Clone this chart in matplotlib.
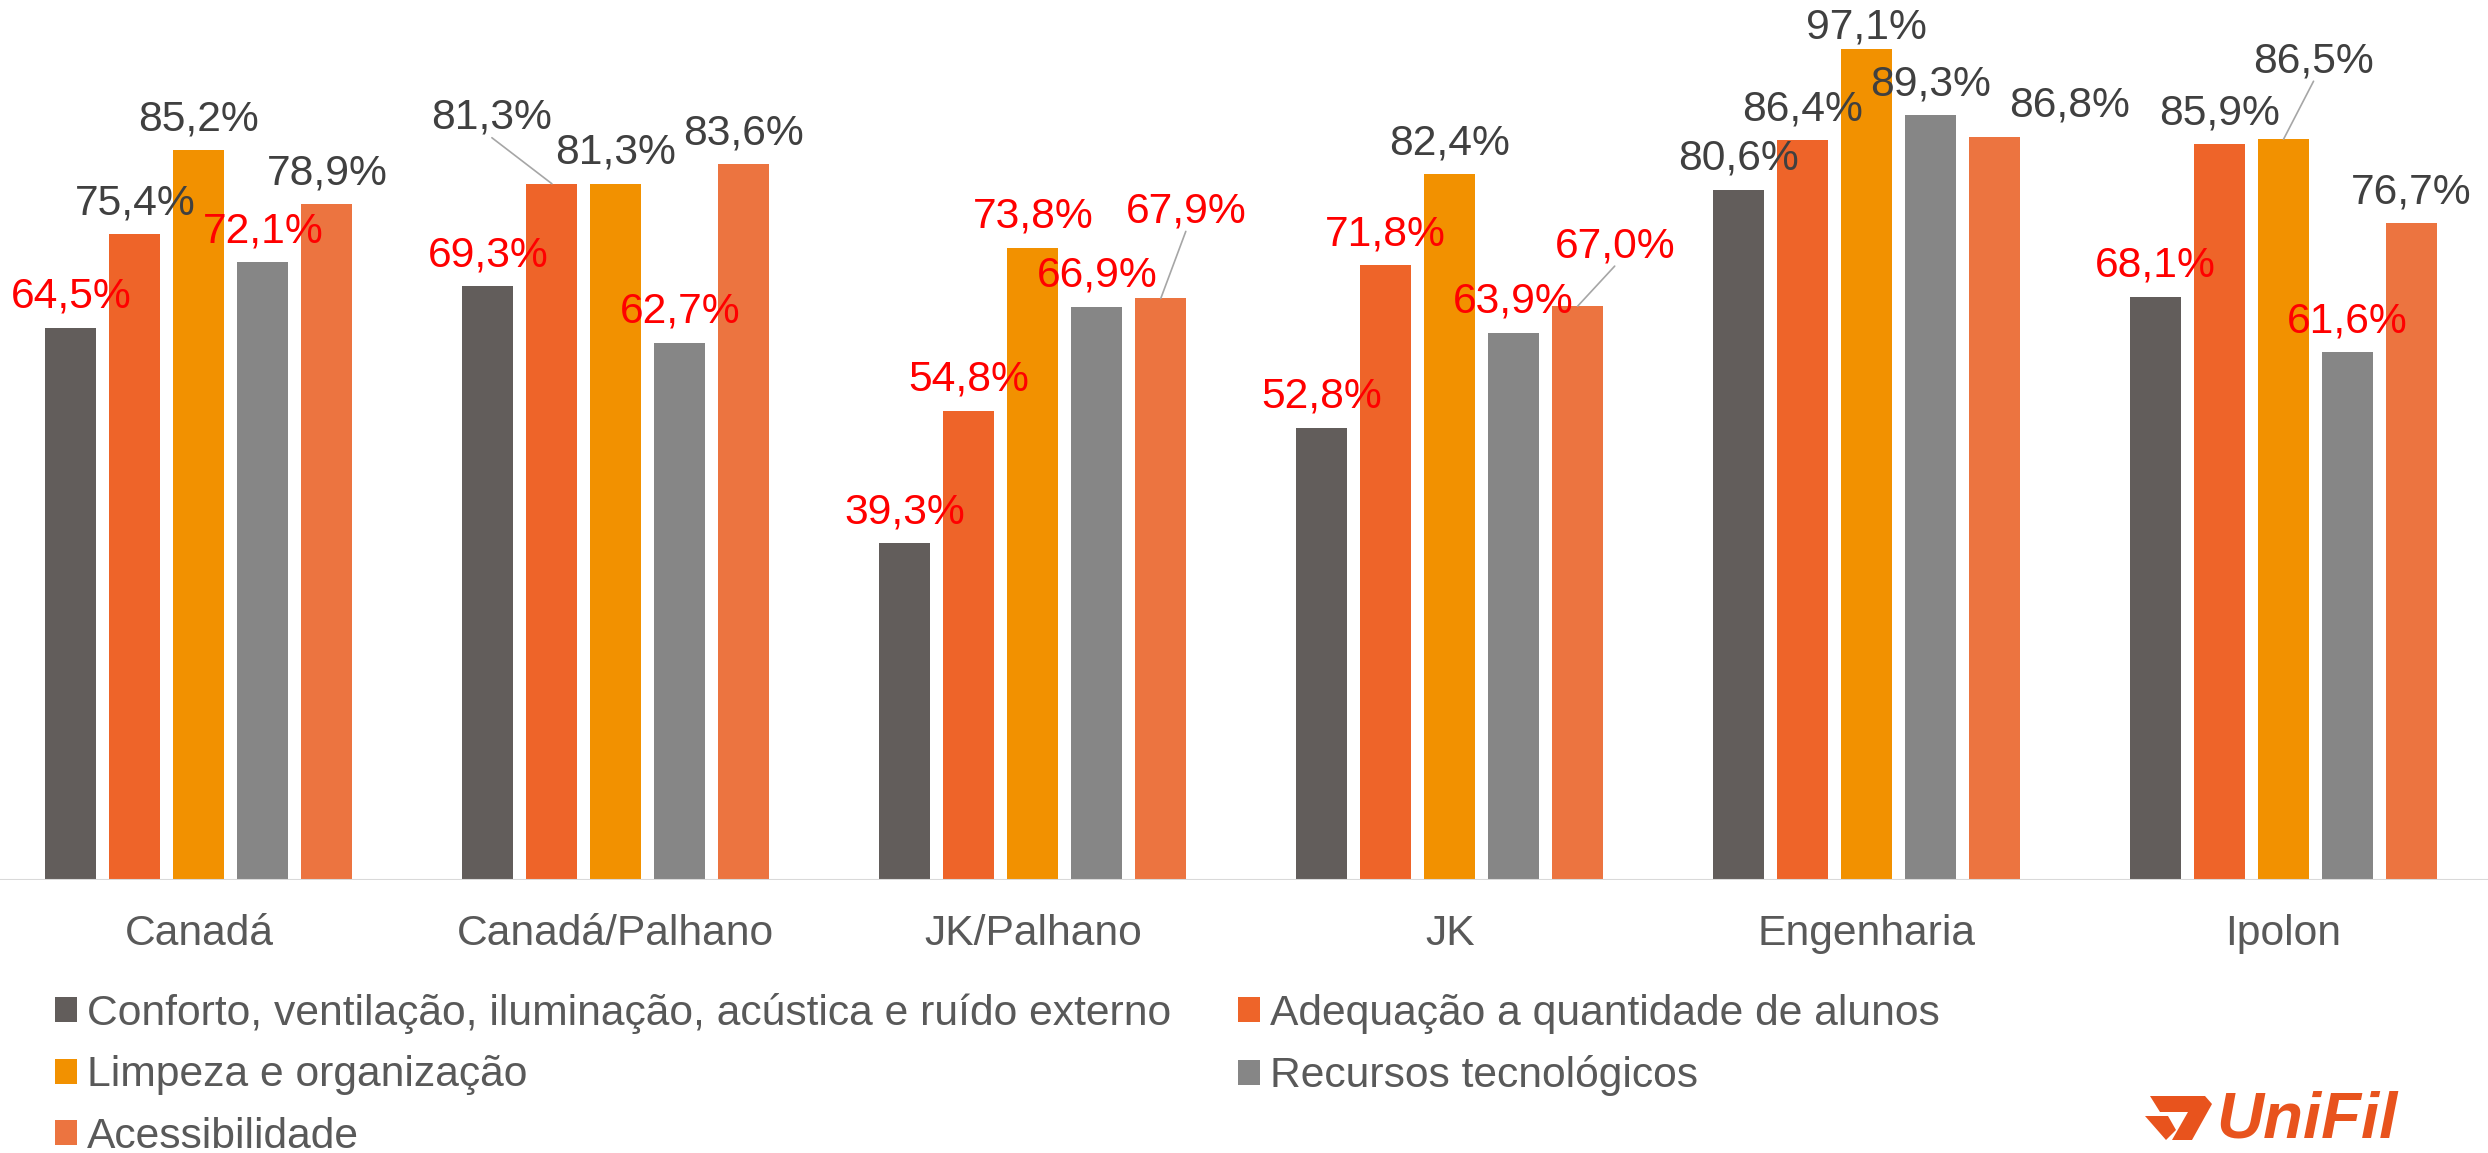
import matplotlib
matplotlib.use("Agg")
import matplotlib.pyplot as plt
from matplotlib.patches import Polygon, Patch
import numpy as np

plt.rcParams['font.family'] = ['Liberation Sans', 'DejaVu Sans']

# ---------------- data ----------------
categories = ["Canadá", "Canadá/Palhano", "JK/Palhano", "JK", "Engenharia", "Ipolon"]
series_names = [
    "Conforto, ventilação, iluminação, acústica e ruído externo",
    "Adequação a quantidade de alunos",
    "Limpeza e organização",
    "Recursos tecnológicos",
    "Acessibilidade",
]
conforto = [64.5, 69.3, 39.3, 52.8, 80.6, 68.1]
adequacao = [75.4, 81.3, 54.8, 71.8, 86.4, 85.9]
limpeza = [85.2, 81.3, 73.8, 82.4, 97.1, 86.5]
recursos = [72.1, 62.7, 66.9, 63.9, 89.3, 61.6]
acessibilidade = [78.9, 83.6, 67.9, 67.0, 86.8, 76.7]
series_values = [conforto, adequacao, limpeza, recursos, acessibilidade]

# ---------------- style ----------------
colors = ["#625D5B", "#EE6429", "#F29100", "#868686", "#EC7440"]
label_dark = "#404040"
label_red = "#FF0000"
text_grey = "#595959"
FS = 30.7

# manual label adjustments (series index, category index) -> (dx, dy) pixels, leader line
label_moves = {
    (1, 1): (-60, 35, True),
    (4, 2): (25, 56, True),
    (4, 3): (37, 29, True),
    (2, 4): (0, -10, False),
    (4, 4): (75, 0, False),
    (2, 5): (30, 47, True),
}

W, H = 2488, 1153
fig = plt.figure(figsize=(W / 100, H / 100), dpi=100)
ax = fig.add_axes([-9.5 / W, (H - 879.5) / H, 2501.5 / W, 855.8 / H])
ax.set_xlim(-0.5, 5.5)
ax.set_ylim(0, 100)

x = np.arange(len(categories))
step = 0.1535
bw = 0.1223
for i, (vals, c) in enumerate(zip(series_values, colors)):
    pos = x + (i - 2) * step
    ax.bar(pos, vals, width=bw, color=c, edgecolor='none', zorder=2)
    for j, v in enumerate(vals):
        dx, dy, leader = label_moves.get((i, j), (0, 0, False))
        col = label_red if v < 75 else label_dark
        txt = f"{v:.1f}%".replace(".", ",")
        kw = {}
        if leader:
            kw['arrowprops'] = dict(arrowstyle='-', color='#A6A6A6', lw=1.2,
                                    shrinkA=0, shrinkB=0, relpos=(0.5, 0.0),
                                    patchA=None)
        ax.annotate(txt, xy=(pos[j], v), xytext=(dx, 20 + dy),
                    textcoords='offset pixels', ha='center', va='baseline',
                    fontsize=FS, color=col, zorder=5, **kw)

ax.axhline(0, color='#D9D9D9', lw=1.5, zorder=3)
for s in ax.spines.values():
    s.set_visible(False)
ax.set_yticks([])
ax.set_xticks(x)
ax.set_xticklabels(categories, fontsize=FS, color=text_grey)
ax.tick_params(axis='x', length=0, pad=25)
ax.patch.set_alpha(0)

# legend (row-major order like the reference)
handles = [Patch(facecolor=c, edgecolor='none') for c in colors]
order = [0, 2, 4, 1, 3]
leg = fig.legend([handles[k] for k in order], [series_names[k] for k in order],
                 ncol=2, loc='upper left', bbox_to_anchor=(55 / W, 1 - 993 / H),
                 frameon=False, fontsize=FS, borderpad=0, borderaxespad=0,
                 handlelength=0.52, handleheight=0.52, handletextpad=0.24,
                 columnspacing=1.55, labelspacing=0.50)
for t in leg.get_texts():
    t.set_color(text_grey)

# logo
def P(px, py):
    return (px / W, 1 - py / H)

logo_col = "#E8531D"
fig.text(2216 / W, 1 - 1138 / H, "UniFil", fontsize=47, fontweight='bold',
         fontstyle='italic', color=logo_col, ha='left', va='baseline')
emb1 = [P(2150, 1096), P(2205, 1096), P(2212, 1104), P(2192, 1140),
        P(2172, 1140), P(2188, 1112), P(2160, 1112)]
emb2 = [P(2145, 1116), P(2168, 1116), P(2176, 1130), P(2166, 1140)]
for pts in (emb1, emb2):
    fig.patches.append(Polygon(pts, closed=True, transform=fig.transFigure,
                               facecolor=logo_col, edgecolor='none'))

fig.savefig("out.png", dpi=100)
